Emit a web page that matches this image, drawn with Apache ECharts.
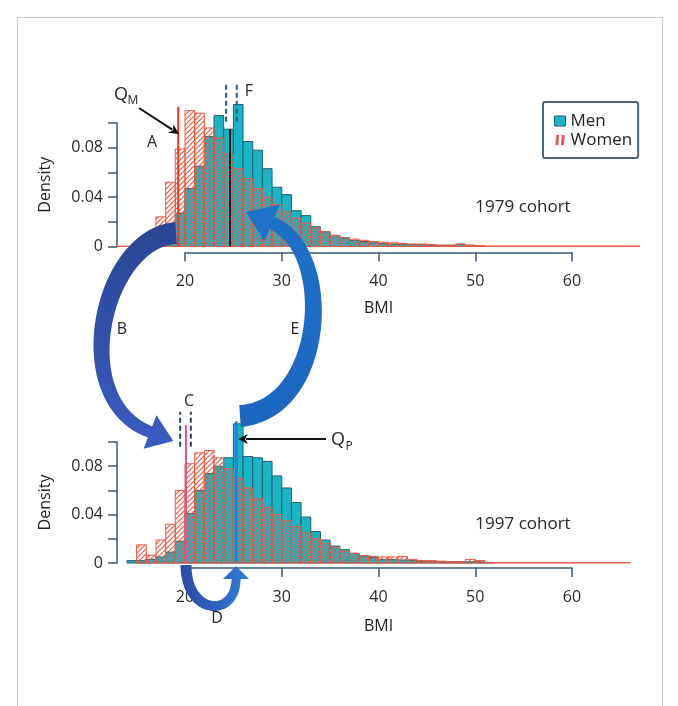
<!DOCTYPE html>
<html lang="en">
<head>
<meta charset="utf-8">
<script src="https://cdn.jsdelivr.net/npm/echarts@6/dist/echarts.min.js"></script>
<style>
  html, body { margin: 0; padding: 0; background: #fff; }
  #chart { width: 678px; height: 706px; }
</style>
</head>
<body>
<div id="chart"></div>
<script>
// densities per 1-unit BMI bin, first bin starts at BMI 13
const firstBin = 13
const men1979 = [null, null, null, 0.001, 0.003, 0.008, 0.027, 0.047, 0.065, 0.089,
  0.106, 0.095, 0.115, 0.085, 0.078, 0.063, 0.048, 0.042, 0.029, 0.025,
  0.016, 0.012, 0.009, 0.007, 0.005, 0.004, 0.003, 0.0025, 0.002, 0.002,
  0.0015, 0.0015, 0.001, 0.001, 0.001, 0.0015, 0.001, null, null, null,
  null, null, null, null, null, null, null, null, null, null, null, null, null, null]
const women1979 = [0.0003, 0.0003, 0.001, 0.007, 0.024, 0.052, 0.079, 0.110, 0.108, 0.096,
  0.088, 0.075, 0.063, 0.055, 0.047, 0.040, 0.034, 0.028, 0.023, 0.019,
  0.015, 0.012, 0.009, 0.007, 0.006, 0.005, 0.004, 0.0035, 0.003, 0.0025,
  0.002, 0.002, 0.0015, 0.001, 0.001, 0.002, 0.001, 0.0008, 0.0004, 0.0004,
  0.0004, 0.0004, 0.0004, 0.0004, 0.0004, 0.0004, 0.0004, 0.0004, 0.0004, 0.0004, 0.0004, 0.0004, 0.0004, 0.0004]
const men1997 = [null, 0.002, 0.002, 0.003, 0.005, 0.009, 0.018, 0.041, 0.060, 0.074,
  0.080, 0.087, 0.115, 0.088, 0.087, 0.084, 0.072, 0.062, 0.050, 0.038,
  0.026, 0.019, 0.014, 0.011, 0.008, 0.006, 0.0045, 0.003, 0.003, 0.0025,
  0.002, 0.0015, 0.001, 0.001, 0.001, 0.001, 0.001, 0.001, 0.0005, null,
  null, null, null, null, null, null, null, null, null, null, null, null, null, null]
const women1997 = [null, null, 0.015, 0.0065, 0.019, 0.032, 0.060, 0.082, 0.091, 0.093,
  0.087, 0.078, 0.070, 0.062, 0.053, 0.046, 0.040, 0.035, 0.030, 0.025,
  0.020, 0.016, 0.013, 0.010, 0.008, 0.006, 0.0055, 0.005, 0.005, 0.0055,
  0.003, 0.002, 0.002, 0.0015, 0.001, 0.001, 0.003, 0.002, 0.0004, 0.0004,
  0.0004, 0.0004, 0.0004, 0.0004, 0.0004, 0.0004, 0.0004, 0.0004, 0.0004, 0.0004, 0.0004, 0.0004, 0.0004, null]

// reference lines: BMI position, lower and upper density
const qM1979 = [19.3, 0, 0.113]
const mid1979 = [24.65, 0, 0.095]
const band1979 = [24.25, 25.35]
const qP1997 = [25.3, 0, 0.117]
const mid1997 = [20.1, 0, 0.114]
const band1997 = [19.5, 20.6]
const bandSpan1979 = [0.101, 0.132]
const bandSpan1997 = [0.096, 0.125]

const xTicks = [20, 60, 10]
const yTicks = [0, 0.1, 0.02]

const FONT = '"Open Sans", "Noto Sans", sans-serif'
const axisColor = '#3b5874'
const teal = '#19b4c6', tealEdge = '#24606c'
const red = '#eb5a3f'

function hatch(color) {
  const c = document.createElement('canvas')
  c.width = 5; c.height = 5
  const g = c.getContext('2d')
  g.strokeStyle = color; g.lineWidth = 1.2
  g.beginPath()
  g.moveTo(-1, 6); g.lineTo(6, -1)
  g.moveTo(-1, 1); g.lineTo(1, -1)
  g.moveTo(4, 6); g.lineTo(6, 4)
  g.stroke()
  return c
}
const hatchFill = { image: hatch(red), repeat: 'repeat' }

// legend icon for women: two slanted stripes
function womenIcon() {
  const c = document.createElement('canvas')
  c.width = 12; c.height = 10
  const g = c.getContext('2d')
  g.fillStyle = '#d9533b'
  ;[1, 7].forEach(x => {
    g.beginPath(); g.moveTo(x + 1, 0); g.lineTo(x + 4, 0); g.lineTo(x + 3, 10); g.lineTo(x, 10); g.closePath(); g.fill()
  })
  return 'image://' + c.toDataURL()
}

function bins(arr) {
  return arr.map((v, i) => v == null ? null : [firstBin + i, v]).filter(d => d)
}

function histRender(fill, stroke) {
  return function (params, api) {
    const x0 = api.value(0), h = api.value(1)
    const a = api.coord([x0, 0]), b = api.coord([x0 + 1, h])
    return {
      type: 'rect',
      shape: { x: a[0], y: b[1], width: b[0] - a[0], height: a[1] - b[1] },
      style: { fill: fill, stroke: stroke, lineWidth: 1 }
    }
  }
}

function hist(name, arr, gi, fill, stroke, z) {
  return {
    type: 'custom', name: name, xAxisIndex: gi, yAxisIndex: gi, clip: false, z: z,
    itemStyle: { color: name === 'Men' ? teal : red },
    renderItem: histRender(fill, stroke), data: bins(arr), silent: true
  }
}

// vertical segment [x, y0, y1] drawn through the axes
function vline(x, y0, y1, gi, color, width, dashed) {
  return {
    type: 'custom', xAxisIndex: gi, yAxisIndex: gi, clip: false, silent: true, z: 6,
    data: [[x, y0, y1]],
    renderItem: function (params, api) {
      const a = api.coord([api.value(0), api.value(1)]), b = api.coord([api.value(0), api.value(2)])
      return {
        type: 'line', shape: { x1: a[0], y1: a[1], x2: b[0], y2: b[1] },
        style: { stroke: color, lineWidth: width, lineDash: dashed ? [5, 3] : null }
      }
    }
  }
}

function mkX(gi, off, gap) {
  return {
    type: 'value', gridIndex: gi, min: xTicks[0], max: xTicks[1], interval: xTicks[2], offset: off,
    name: 'BMI', nameLocation: 'middle', nameGap: gap,
    nameTextStyle: { fontSize: 16, color: '#222', fontFamily: FONT },
    axisLine: { show: true, onZero: false, lineStyle: { color: axisColor, width: 1.5 } },
    axisTick: { show: true, length: 9, lineStyle: { color: axisColor, width: 1.5 } },
    axisLabel: { margin: 21, fontSize: 16, color: '#2a2a2a', fontFamily: FONT },
    splitLine: { show: false }
  }
}

function mkY(gi) {
  return {
    type: 'value', gridIndex: gi, min: yTicks[0], max: yTicks[1], interval: yTicks[2], offset: 68,
    name: 'Density', nameLocation: 'middle', nameGap: 64, nameRotate: 90,
    nameTextStyle: { fontSize: 16, color: '#222', fontFamily: FONT },
    axisLine: { show: true, onZero: false, lineStyle: { color: axisColor, width: 1.5 } },
    axisTick: { show: true, length: 9, lineStyle: { color: axisColor, width: 1.5 } },
    axisLabel: {
      margin: 14, fontSize: 16, color: '#2a2a2a', fontFamily: FONT,
      formatter: v => {
        const k = Math.round(v * 100)
        return k === 0 ? '0' : (k === 4 || k === 8) ? (k / 100).toFixed(2) : ''
      }
    },
    splitLine: { show: false }
  }
}

// ---- decorations: texts and arrows ----
function txt(s, x, y, size) {
  return {
    type: 'text', x: x, y: y, z: 100, silent: true,
    style: { text: s, fill: '#262626', font: size + 'px ' + FONT, align: 'center', verticalAlign: 'middle' }
  }
}

function arrowLine(x0, y0, x1, y1) {
  const dx = x1 - x0, dy = y1 - y0, L = Math.hypot(dx, dy)
  const ux = dx / L, uy = dy / L, px = -uy, py = ux
  const hl = 10, hw = 5
  const bx = x1 - ux * hl, by = y1 - uy * hl
  return [
    { type: 'line', z: 100, silent: true, shape: { x1: x0, y1: y0, x2: bx + ux * 2, y2: by + uy * 2 }, style: { stroke: '#111', lineWidth: 2 } },
    { type: 'polygon', z: 100, silent: true, shape: { points: [[x1, y1], [bx + px * hw, by + py * hw], [bx + ux * 3, by + uy * 3], [bx - px * hw, by - py * hw]] }, style: { fill: '#111' } }
  ]
}

function bandArrow(p, w0, w1, headLen, headHalf, grad) {
  const N = 48, left = [], right = []
  const bez = (t, k) => {
    const m = 1 - t
    return m * m * m * p[0][k] + 3 * m * m * t * p[1][k] + 3 * m * t * t * p[2][k] + t * t * t * p[3][k]
  }
  const der = (t, k) => {
    const m = 1 - t
    return 3 * m * m * (p[1][k] - p[0][k]) + 6 * m * t * (p[2][k] - p[1][k]) + 3 * t * t * (p[3][k] - p[2][k])
  }
  let ux = 0, uy = 0, nx = 0, ny = 0
  for (let i = 0; i <= N; i++) {
    const t = i / N
    const x = bez(t, 0), y = bez(t, 1)
    const dx = der(t, 0), dy = der(t, 1), L = Math.hypot(dx, dy)
    ux = dx / L; uy = dy / L; nx = -uy; ny = ux
    const w = (w0 + (w1 - w0) * t) / 2
    left.push([x + nx * w, y + ny * w])
    right.push([x - nx * w, y - ny * w])
  }
  const e = p[3]
  const pts = left.concat([
    [e[0] + nx * headHalf, e[1] + ny * headHalf],
    [e[0] + ux * headLen, e[1] + uy * headLen],
    [e[0] - nx * headHalf, e[1] - ny * headHalf]
  ]).concat(right.reverse())
  return { type: 'polygon', z: 90, silent: true, shape: { points: pts }, style: { fill: grad } }
}

const gradB = { type: 'linear', x: 0, y: 0, x2: 0, y2: 1, colorStops: [{ offset: 0, color: '#2a4693' }, { offset: 1, color: '#3a5cc2' }] }
const gradE = { type: 'linear', x: 0, y: 0, x2: 0, y2: 1, colorStops: [{ offset: 0, color: '#1f72c9' }, { offset: 1, color: '#1b66c0' }] }
const gradD = { type: 'linear', x: 0, y: 0, x2: 1, y2: 0, colorStops: [{ offset: 0, color: '#2b4ba6' }, { offset: 1, color: '#2d7dd6' }] }

const graphics = [
  { type: 'rect', z: 0, silent: true, shape: { x: 17.5, y: 17.5, width: 645, height: 720 }, style: { fill: null, stroke: '#c9c9c9', lineWidth: 1 } },
  bandArrow([[176, 233], [102, 238], [66, 400], [150, 432]], 22, 12, 25, 18, gradB),
  bandArrow([[240, 416], [326, 410], [336, 250], [272, 223]], 22, 13, 28, 20, gradE),
  bandArrow([[186, 565], [186, 616], [236, 618], [236, 579]], 11, 9, 13, 13, gradD),
  txt('Q', 121, 95, 18), txt('M', 133, 101, 12),
  txt('A', 152, 142, 16), txt('F', 249, 91, 16),
  txt('1979 cohort', 523, 207, 17),
  txt('B', 122, 329, 16), txt('E', 295, 329, 16),
  txt('C', 189, 401, 16),
  txt('Q', 338, 440, 18), txt('P', 349, 447, 12),
  txt('1997 cohort', 523, 524, 17),
  txt('D', 217, 618, 16)
].concat(arrowLine(139, 108, 179, 134)).concat(arrowLine(326, 439, 238, 439))

const chart = echarts.init(document.getElementById('chart'))
chart.setOption({
  backgroundColor: '#fff',
  animation: false,
  grid: [
    { left: 185, top: 123, width: 387, height: 123.5, containLabel: false, outerBoundsMode: 'none' },
    { left: 185, top: 442, width: 387, height: 121, containLabel: false, outerBoundsMode: 'none' }
  ],
  xAxis: [mkX(0, 6, 48), mkX(1, 5, 50)],
  yAxis: [mkY(0), mkY(1)],
  legend: {
    orient: 'vertical', left: 543, top: 102, padding: [10, 6, 9, 11], itemGap: 1,
    itemWidth: 11, itemHeight: 10, selectedMode: false,
    backgroundColor: '#fff', borderColor: '#50647a', borderWidth: 2, borderRadius: 2,
    textStyle: { fontSize: 17, color: '#222', fontFamily: FONT, lineHeight: 18 },
    data: [
      { name: 'Men', icon: 'rect', itemStyle: { color: teal, borderColor: tealEdge, borderWidth: 1 } },
      { name: 'Women', icon: womenIcon(), itemStyle: { color: red } }
    ]
  },
  series: [
    hist('Men', men1979, 0, teal, tealEdge, 2),
    hist('Women', women1979, 0, hatchFill, red, 3),
    hist('Men', men1997, 1, teal, tealEdge, 2),
    hist('Women', women1997, 1, hatchFill, red, 3),
    vline(qM1979[0], qM1979[1], qM1979[2], 0, '#e63a26', 2),
    vline(mid1979[0], mid1979[1], mid1979[2], 0, '#141414', 2),
    vline(band1979[0], bandSpan1979[0], bandSpan1979[1], 0, '#2b5686', 2, true),
    vline(band1979[1], bandSpan1979[0], bandSpan1979[1], 0, '#2b5686', 2, true),
    vline(mid1997[0], mid1997[1], mid1997[2], 1, '#d6589c', 2),
    vline(qP1997[0], qP1997[1], qP1997[2], 1, '#2b7fd6', 3),
    vline(band1997[0], bandSpan1997[0], bandSpan1997[1], 1, '#2b3f5a', 2, true),
    vline(band1997[1], bandSpan1997[0], bandSpan1997[1], 1, '#2b3f5a', 2, true)
  ],
  graphic: graphics
})
</script>
</body>
</html>
